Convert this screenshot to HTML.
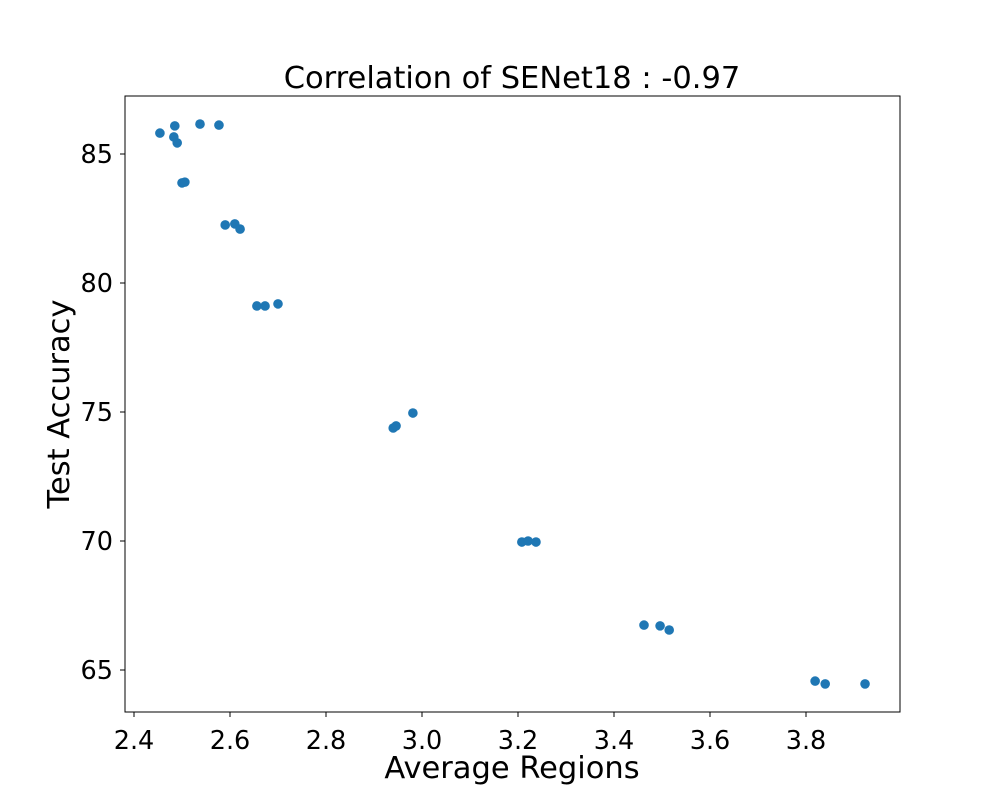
<!DOCTYPE html>
<html><head><meta charset="utf-8">
<style>
html,body{margin:0;padding:0;background:#fff;}
svg{display:block;font-family:"DejaVu Sans","Liberation Sans",sans-serif;}
</style></head>
<body>
<svg id="chart" width="1000" height="800"></svg>
<script>
const xValues=[2.454,2.485,2.483,2.490,2.5375,2.577,2.500,2.506,2.590,2.610,2.621,2.656,2.673,2.700,2.940,2.946,2.981,3.208,3.221,3.2375,3.4625,3.496,3.515,3.819,3.840,3.923];
const yValues=[85.81,86.09,85.66,85.43,86.16,86.12,83.88,83.91,82.25,82.29,82.09,79.11,79.11,79.19,74.38,74.46,74.96,69.96,70.0,69.96,66.74,66.71,66.55,64.57,64.46,64.46];
const xTicks=[2.4,2.6,2.8,3.0,3.2,3.4,3.6,3.8];
const yTicks=[65,70,75,80,85];
const xTickLabels=["2.4","2.6","2.8","3.0","3.2","3.4","3.6","3.8"];
const yTickLabels=["65","70","75","80","85"];

const NS="http://www.w3.org/2000/svg";
const svg=document.getElementById('chart');
const L=125,R=900,T=96,B=712;
const sx=v=>134+(v-2.4)*480;
const sy=v=>154-(v-85)*25.8;
function mk(tag,attrs,parent){const e=document.createElementNS(NS,tag);for(const k in attrs)e.setAttribute(k,attrs[k]);(parent||svg).appendChild(e);return e;}

const frame=mk('rect',{x:L,y:T,width:R-L,height:B-T,fill:'none',stroke:'#000','stroke-width':1});



xTicks.forEach((t,i)=>{
  const x=sx(t);
  const ln=mk('line',{x1:x,x2:x,y1:B,y2:B+5,stroke:'#000'});
  
  
  const tx=mk('text',{x:x,y:B+37,'font-size':25.5,'text-anchor':'middle'});
  tx.textContent=xTickLabels[i];
  
  
});
yTicks.forEach((t,i)=>{
  const y=sy(t);
  const ln=mk('line',{x1:L-5,x2:L,y1:y,y2:y,stroke:'#000'});
  
  
  const tx=mk('text',{x:L-12,y:y+9,'font-size':25.5,'text-anchor':'end'});
  tx.textContent=yTickLabels[i];
  
  
});
xValues.forEach((v,i)=>{
  const c=mk('circle',{cx:sx(v),cy:sy(yValues[i]),r:4.8,fill:'#1f77b4'});
  
  
});
const title=mk('text',{x:512,y:88,'font-size':30.5,'text-anchor':'middle'});
title.textContent='Correlation of SENet18 : -0.97';


const xl=mk('text',{x:512,y:778,'font-size':30.5,'text-anchor':'middle'});
xl.textContent='Average Regions';


const yl=mk('text',{x:0,y:0,'font-size':30.5,'text-anchor':'middle',transform:'translate(69,404) rotate(-90)'});
yl.textContent='Test Accuracy';


</script>
</body></html>
